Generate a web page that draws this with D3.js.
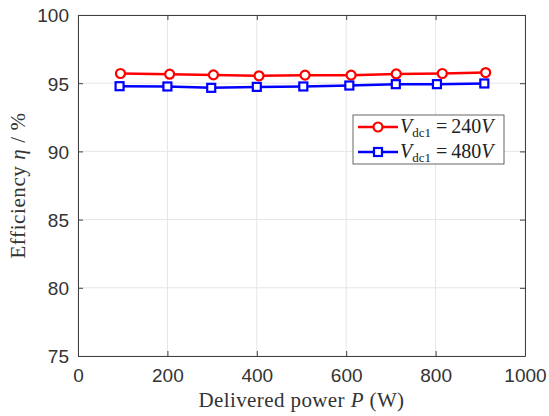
<!DOCTYPE html>
<html>
<head>
<meta charset="utf-8">
<script src="https://cdn.jsdelivr.net/npm/d3@7"></script>
<style>
  body { margin: 0; background: #fff; }
</style>
</head>
<body>
<svg id="chart" width="549" height="416"></svg>
<script>
// data
var power240 = [95, 205, 303, 405, 508, 611, 712, 815, 912];
var eff240 = [95.71, 95.66, 95.61, 95.54, 95.59, 95.59, 95.68, 95.71, 95.78];
var power480 = [93, 200, 298, 400, 504, 607, 711, 803, 909];
var eff480 = [94.78, 94.76, 94.66, 94.73, 94.76, 94.83, 94.93, 94.93, 94.98];
var xTicks = [0, 200, 400, 600, 800, 1000];
var yTicks = [75, 80, 85, 90, 95, 100];

var svg = d3.select("#chart"),
    margin = {top: 15, right: 24, bottom: 60, left: 78},
    width = +svg.attr("width") - margin.left - margin.right,
    height = +svg.attr("height") - margin.top - margin.bottom;

var sansFont = "'Liberation Sans', Arial, sans-serif";
var serifFont = "'Liberation Serif', 'Times New Roman', serif";

var x = d3.scaleLinear().domain([0, 1000]).range([0, width]);
var y = d3.scaleLinear().domain([75, 100]).range([height, 0]);

var g = svg.append("g")
    .attr("transform", "translate(" + margin.left + "," + margin.top + ")");

// grid
g.selectAll(".gx").data(xTicks).enter().append("line")
    .attr("x1", d => x(d)).attr("x2", d => x(d))
    .attr("y1", 0).attr("y2", height)
    .attr("stroke", "#e6e6e6").attr("stroke-width", 1);
g.selectAll(".gy").data(yTicks).enter().append("line")
    .attr("x1", 0).attr("x2", width)
    .attr("y1", d => y(d)).attr("y2", d => y(d))
    .attr("stroke", "#e6e6e6").attr("stroke-width", 1);

// axes
var xAxis = g.append("g")
    .attr("transform", "translate(0," + height + ")")
    .call(d3.axisBottom(x).tickValues(xTicks).tickFormat(d3.format("d"))
      .tickSizeInner(-5).tickSizeOuter(0).tickPadding(10));
var yAxis = g.append("g")
    .call(d3.axisLeft(y).tickValues(yTicks).tickSizeInner(-5).tickSizeOuter(0).tickPadding(9));
g.append("g")
    .call(d3.axisTop(x).tickValues(xTicks).tickSizeInner(-5).tickSizeOuter(0).tickFormat(""));
g.append("g")
    .attr("transform", "translate(" + width + ",0)")
    .call(d3.axisRight(y).tickValues(yTicks).tickSizeInner(-5).tickSizeOuter(0).tickFormat(""));
g.selectAll(".domain").attr("stroke", "#404040").attr("stroke-width", 1);
g.selectAll(".tick line").attr("stroke", "#404040");
g.selectAll(".tick text")
    .attr("font-family", sansFont).attr("font-size", 19).attr("fill", "#333");
xAxis.selectAll(".tick text").attr("dy", "0.82em");
yAxis.selectAll(".tick text").attr("dy", "0.36em");

// labels
svg.append("text")
    .attr("font-family", serifFont).attr("font-size", 21).attr("fill", "#333")
    .attr("letter-spacing", 0.4)
    .attr("x", margin.left + width / 2).attr("y", 407)
    .attr("text-anchor", "middle")
    .html('Delivered power <tspan font-style="italic">P</tspan> (W)');
svg.append("text")
    .attr("font-family", serifFont).attr("font-size", 21).attr("fill", "#333")
    .attr("letter-spacing", 0.6)
    .attr("transform", "translate(25," + (margin.top + height / 2) + ") rotate(-90)")
    .attr("text-anchor", "middle")
    .html('Efficiency <tspan font-style="italic">η</tspan> / %');

var line = d3.line().x(d => x(d[0])).y(d => y(d[1]));

var series = [
  {name: "240", color: "#ff0000", shape: "circle", pts: d3.zip(power240, eff240)},
  {name: "480", color: "#0000ff", shape: "square", pts: d3.zip(power480, eff480)}
];

function marker(sel, s) {
  if (s.shape === "circle") {
    sel.append("circle").attr("r", 4.5)
      .attr("fill", "#fff").attr("stroke", s.color).attr("stroke-width", 2.2);
  } else {
    sel.append("rect").attr("x", -4).attr("y", -4).attr("width", 8).attr("height", 8)
      .attr("fill", "#fff").attr("stroke", s.color).attr("stroke-width", 2.2);
  }
}

series.forEach(function(s) {
  g.append("path").datum(s.pts)
    .attr("d", line).attr("fill", "none")
    .attr("stroke", s.color).attr("stroke-width", 2.5);
  g.selectAll(null).data(s.pts).enter().append("g")
    .attr("transform", d => "translate(" + x(d[0]) + "," + y(d[1]) + ")")
    .each(function() { marker(d3.select(this), s); });
});

// legend
var leg = svg.append("g").attr("transform", "translate(353,115)");
leg.append("rect").attr("width", 151).attr("height", 49)
  .attr("fill", "#fff").attr("stroke", "#404040").attr("stroke-width", 0.8);
series.forEach(function(s, i) {
  var row = leg.append("g").attr("transform", "translate(0," + (12 + i * 25) + ")");
  row.append("line").attr("x1", 5).attr("x2", 45)
    .attr("stroke", s.color).attr("stroke-width", 2.5);
  var m = row.append("g").attr("transform", "translate(25,0)");
  marker(m, s);
  row.append("text")
    .attr("font-family", serifFont).attr("font-size", 20).attr("fill", "#222")
    .attr("x", 47).attr("y", 6)
    .html('<tspan font-style="italic">V</tspan><tspan font-size="13" dy="4">dc1</tspan>' +
      '<tspan dy="-4"> =\u2009' + s.name + '</tspan><tspan font-style="italic">V</tspan>');
});
</script>
</body>
</html>
